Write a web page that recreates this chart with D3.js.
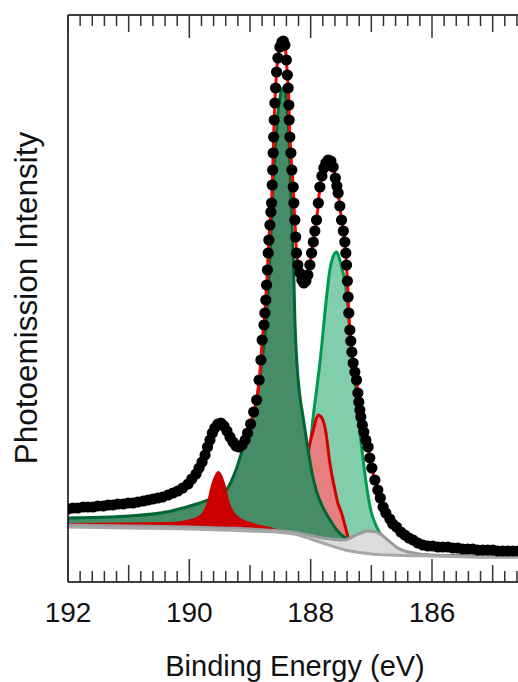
<!DOCTYPE html>
<html>
<head>
<meta charset="utf-8">
<script src="https://cdn.jsdelivr.net/npm/d3@7"></script>
<style>
  html, body { margin: 0; padding: 0; background: #fff; }
  svg { display: block; font-family: "Liberation Sans", Arial, sans-serif; }
</style>
</head>
<body>
<div id="chart"></div>
<script>
// measured spectrum (binding energy in eV, intensity in arb. units)
const energy = [
  192.00, 191.92, 191.84, 191.75, 191.67, 191.59, 191.51, 191.42, 191.34, 191.26,
  191.18, 191.09, 191.01, 190.93, 190.85, 190.76, 190.68, 190.60, 190.52, 190.44,
  190.35, 190.27, 190.19, 190.11, 190.02, 189.96, 189.89, 189.84, 189.79, 189.74,
  189.70, 189.66, 189.62, 189.58, 189.53, 189.48, 189.43, 189.38, 189.33, 189.28,
  189.23, 189.18, 189.13, 189.08, 189.04, 188.99, 188.94, 188.89,
  188.85, 188.82, 188.80, 188.77, 188.755, 188.74, 188.727, 188.713, 188.70, 188.689,
  188.672, 188.656, 188.644, 188.634, 188.626, 188.618, 188.61, 188.601, 188.59, 188.578,
  188.562, 188.54, 188.507, 188.474, 188.45,
  188.425, 188.40, 188.384, 188.371, 188.359, 188.354, 188.343, 188.326, 188.31, 188.288,
  188.277, 188.26, 188.247, 188.233, 188.211, 188.178, 188.145, 188.112, 188.079, 188.046,
  188.013, 187.985, 187.956, 187.931, 187.903, 187.873, 187.848, 187.815, 187.783, 187.75,
  187.712, 187.667, 187.629, 187.593, 187.568, 187.547, 187.519, 187.491, 187.461, 187.437,
  187.42, 187.409, 187.395, 187.382, 187.371, 187.354, 187.338, 187.321, 187.30, 187.272,
  187.244, 187.222, 187.206, 187.189, 187.173, 187.148, 187.124, 187.091, 187.053, 187.025,
  186.992, 186.942, 186.893, 186.852, 186.806, 186.761, 186.695, 186.646, 186.585, 186.514,
  186.448, 186.382, 186.311, 186.234, 186.152, 186.069, 185.987, 185.904, 185.822, 185.74,
  185.657, 185.575, 185.493, 185.41, 185.328, 185.245, 185.163, 185.081, 184.998, 184.916,
  184.834, 184.751, 184.669, 184.586
];
const counts = [
  73, 74, 74, 75, 75, 75, 76, 76, 77, 77,
  78, 78, 79, 79, 80, 81, 82, 83, 84, 85,
  87, 89, 91, 94, 98, 103, 108, 114, 120, 127,
  135, 142, 149, 154, 158, 159, 156, 151, 145, 140,
  136, 135, 137, 142, 149, 158, 170, 182,
  202, 222, 242, 257, 269, 282, 297, 312, 329, 342,
  357, 370, 379, 397, 412, 429, 445, 462, 479, 494,
  510, 524, 535, 540, 541,
  537, 522, 507, 494, 477, 462, 445, 429, 412, 395,
  379, 362, 345, 329, 317, 309, 302, 299, 301, 307,
  317, 329, 340, 351, 362, 379, 395, 406, 414, 419,
  422, 421, 415, 404, 396, 389, 376, 362, 351, 340,
  329, 317, 301, 285, 269, 252, 241, 230, 219, 210,
  202, 189, 180, 172, 165, 157, 150, 142, 135, 124,
  114, 102, 92, 84, 75, 69, 63, 58, 55, 50,
  47, 44, 42, 39, 37, 36, 36, 35, 35, 35,
  34, 34, 33, 33, 33, 32, 32, 32, 32, 31,
  31, 31, 31, 31
];

// Shirley-type background
const bgE = [192.0, 191.0, 190.0, 189.5, 189.0, 188.5, 188.2, 188.0, 187.8, 187.6, 187.4, 187.2, 187.0, 186.5, 186.0, 185.0, 184.5];
const bgI = [55, 54, 53, 52, 51, 49.5, 47, 43, 39, 35, 31.5, 29.5, 28, 26.5, 26, 25, 25];

// fitted components (background included)
const mainE = [192.00, 191.31, 190.48, 189.83, 189.58, 189.39, 189.22, 189.06, 188.89, 188.81,
  188.73, 188.67, 188.62, 188.57, 188.54, 188.50, 188.46, 188.43, 188.39, 188.36,
  188.34, 188.31, 188.28, 188.26, 188.23, 188.18, 188.13, 188.05, 187.98, 187.91,
  187.80, 187.68, 187.57, 187.47, 187.35, 187.19, 186.86, 186.2, 184.5];
const mainI = [64, 65, 69, 79, 85, 92, 114, 146, 182, 217,
  262, 327, 395, 442, 469, 487, 494, 492, 475, 447,
  412, 362, 312, 262, 222, 187, 167, 135, 110, 92,
  75, 62, 52, 46, 41, 37, 32, 27, 25];

const shoulderE = [192.0, 190.0, 189.0, 188.42, 188.26, 188.18, 188.10, 188.013, 187.959, 187.903,
  187.848, 187.738, 187.684, 187.626, 187.573, 187.519, 187.478, 187.437, 187.354, 187.272,
  187.217, 187.16, 187.069, 186.997, 186.94, 186.86, 186.695, 186.53, 186.366, 186.2, 185.87, 184.5];
const shoulderI = [56, 54, 52, 52, 60, 72, 97, 132, 165, 192,
  219, 285, 312, 326, 330, 322, 312, 302, 252, 202,
  165, 135, 92, 69, 59, 49, 39, 32, 29, 27, 26, 25];

const pinkE = [192.0, 189.0, 188.42, 188.29, 188.222, 188.156, 188.09, 188.025, 187.947, 187.877,
  187.815, 187.75, 187.684, 187.634, 187.60, 187.552, 187.491, 187.437, 187.382, 187.32,
  187.19, 186.86, 186.2, 184.5];
const pinkI = [55.5, 51.5, 50.5, 52, 62, 82, 112, 135, 154, 167,
  164, 150, 119, 102, 92, 79, 69, 57, 45, 40,
  36, 31, 27, 25];

const redE = [192.0, 191.0, 190.32, 190.045, 189.825, 189.715, 189.633, 189.58, 189.55, 189.524,
  189.47, 189.413, 189.33, 189.22, 188.947, 188.672, 188.507, 188.18, 187.5, 184.5];
const redI = [59, 59.5, 60, 62, 67, 79, 99, 107, 110, 111,
  108, 99, 79, 67, 59, 55, 52, 47, 33, 25];

const grayE = [192.0, 191.0, 190.0, 189.0, 188.5, 188.2, 188.0, 187.8, 187.6, 187.45,
  187.35, 187.25, 187.15, 187.05, 186.95, 186.85, 186.75, 186.65, 186.55, 186.45,
  186.3, 186.1, 185.8, 185.0, 184.5];
const grayI = [57, 56, 55, 53, 51, 49, 46.5, 44, 42.5, 42,
  44, 47, 49.5, 51, 50.5, 48, 43, 38, 33.5, 31,
  29, 27, 26.5, 25, 25];

const tickLabels = [192, 190, 188, 186];

const width = 518;
const height = 682;
const plotLeft = 68;
const plotTop = 15;
const plotBottom = 582;

const x = d3.scaleLinear().domain([192, 184.5]).range([plotLeft, 523]);
const y = d3.scaleLinear().domain([0, 567]).range([plotBottom, plotTop]);

const pts = (E, I) => E.map((e, i) => [e, I[i]]);

const svg = d3.select('#chart').append('svg')
  .attr('width', width)
  .attr('height', height);

svg.append('clipPath').attr('id', 'plotclip')
  .append('rect')
  .attr('x', plotLeft).attr('y', plotTop)
  .attr('width', width - plotLeft).attr('height', plotBottom - plotTop);

const plot = svg.append('g').attr('clip-path', 'url(#plotclip)');

const fillArea = d3.area()
  .x((d) => x(d[0]))
  .y0(y(0))
  .y1((d) => y(d[1]))
  .curve(d3.curveMonotoneX);

const topLine = d3.line()
  .x((d) => x(d[0]))
  .y((d) => y(d[1]))
  .curve(d3.curveMonotoneX);

// area under the background, used to blank out the lower part of each fill
const bg = pts(bgE, bgI);
const belowBg = d3.area()
  .x((d) => x(d[0]))
  .y0(plotBottom + 5)
  .y1((d) => y(d[1]))
  .curve(d3.curveMonotoneX);

// components, back to front
const comps = [
  { data: pts(shoulderE, shoulderI), fill: '#82cdab', stroke: '#009a4e' },
  { data: pts(pinkE, pinkI), fill: '#e67f80', stroke: '#d30000' },
  { data: pts(mainE, mainI), fill: '#468c67', stroke: '#006733' },
  { data: pts(redE, redI), fill: '#cc0000', stroke: null },
];

comps.forEach((c) => {
  plot.append('path').attr('d', fillArea(c.data)).attr('fill', c.fill);
  if (c.stroke) {
    plot.append('path')
      .attr('d', topLine(c.data))
      .attr('fill', 'none')
      .attr('stroke', c.stroke)
      .attr('stroke-width', 3);
  }
});

// small component sitting on the background
const gray = pts(grayE, grayI);
plot.append('path').attr('d', belowBg(bg)).attr('fill', '#fff');
plot.append('path').attr('d', fillArea(gray)).attr('fill', '#dcdcdc');
plot.append('path').attr('d', belowBg(bg)).attr('fill', '#fff');
plot.append('path')
  .attr('d', topLine(gray))
  .attr('fill', 'none')
  .attr('stroke', '#9a9a9a')
  .attr('stroke-width', 3);
plot.append('path')
  .attr('d', topLine(bg))
  .attr('fill', 'none')
  .attr('stroke', '#a8a8a8')
  .attr('stroke-width', 3);

// envelope and data points
const spectrum = pts(energy, counts);
plot.append('path')
  .attr('d', topLine(spectrum))
  .attr('fill', 'none')
  .attr('stroke', '#ff0000')
  .attr('stroke-width', 3);

plot.append('g')
  .selectAll('circle')
  .data(spectrum)
  .join('circle')
  .attr('cx', (d) => x(d[0]))
  .attr('cy', (d) => y(d[1]))
  .attr('r', 5.6)
  .attr('fill', '#000');

// frame: left, top and bottom lines
const frame = svg.append('g').attr('stroke', '#000').attr('stroke-width', 1.5);
frame.append('line').attr('x1', plotLeft).attr('x2', plotLeft).attr('y1', plotTop).attr('y2', plotBottom);
frame.append('line').attr('x1', plotLeft).attr('x2', width).attr('y1', plotTop).attr('y2', plotTop);
frame.append('line').attr('x1', plotLeft).attr('x2', width).attr('y1', plotBottom).attr('y2', plotBottom);

// inward ticks on top and bottom
const ticks = d3.range(0, 38).map((k) => ({ v: 192 - k * 0.2, k }))
  .filter((t) => x(t.v) <= width);
const tickLen = (t) => (t.k % 10 === 0 ? 23 : t.k % 5 === 0 ? 17 : 11);

const tg = svg.append('g').attr('stroke', '#333').attr('stroke-width', 1.5);
tg.selectAll('line.b').data(ticks).join('line')
  .attr('class', 'b')
  .attr('x1', (d) => x(d.v)).attr('x2', (d) => x(d.v))
  .attr('y1', plotBottom).attr('y2', (d) => plotBottom - tickLen(d));
tg.selectAll('line.t').data(ticks).join('line')
  .attr('class', 't')
  .attr('x1', (d) => x(d.v)).attr('x2', (d) => x(d.v))
  .attr('y1', plotTop).attr('y2', (d) => plotTop + tickLen(d));

svg.append('g')
  .selectAll('text')
  .data(tickLabels)
  .join('text')
  .attr('x', (d) => x(d))
  .attr('y', 622)
  .attr('text-anchor', 'middle')
  .attr('font-size', 28)
  .attr('fill', '#111')
  .text((d) => d);

svg.append('text')
  .attr('x', 295)
  .attr('y', 676)
  .attr('text-anchor', 'middle')
  .attr('font-size', 29)
  .attr('fill', '#111')
  .text('Binding Energy (eV)');

svg.append('text')
  .attr('transform', 'translate(37,298) rotate(-90)')
  .attr('text-anchor', 'middle')
  .attr('font-size', 31.5)
  .attr('fill', '#111')
  .text('Photoemission Intensity');
</script>
</body>
</html>
